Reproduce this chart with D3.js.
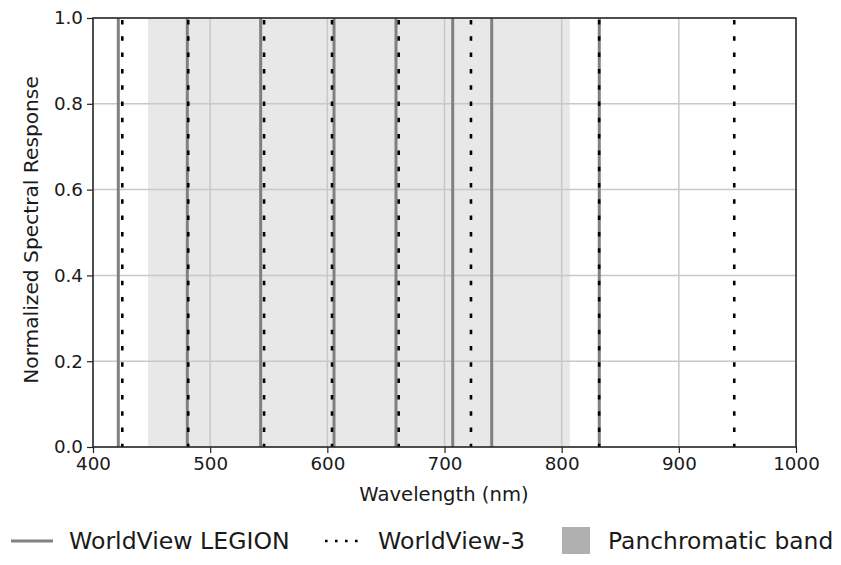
<!DOCTYPE html>
<html><head><meta charset="utf-8">
<script src="https://cdn.jsdelivr.net/npm/d3@7"></script>
<style>body{margin:0;background:#fff}text{font-family:"DejaVu Sans",sans-serif;fill:#1a1a1a}</style>
</head><body>
<svg id="c" width="841" height="565"></svg>
<script>
const legionBands = [421.6, 480.5, 543.1, 605.7, 658.6, 707, 740.3, 832.1];
const wv3Bands = [425, 481.3, 546, 604, 660.9, 722.6, 832, 947.3];
const panBand = [447, 807];
const xTicks = [400, 500, 600, 700, 800, 900, 1000];
const yTicks = [0, 0.2, 0.4, 0.6, 0.8, 1.0];
const legendLabels = ["WorldView LEGION", "WorldView-3", "Panchromatic band"];

const svg = d3.select("#c");
const L = 93, R = 796, T = 18, B = 447;
const x = d3.scaleLinear().domain([400, 1000]).range([L, R]);
const y = d3.scaleLinear().domain([0, 1]).range([B, T]);

// pan band
svg.append("rect").attr("x", x(panBand[0])).attr("y", T)
  .attr("width", x(panBand[1]) - x(panBand[0])).attr("height", B - T)
  .attr("fill", "#e8e8e8");

// grid
svg.append("g").selectAll("line").data(xTicks).join("line")
  .attr("x1", d => x(d)).attr("x2", d => x(d)).attr("y1", T).attr("y2", B)
  .attr("stroke", "#c8c8c8").attr("stroke-width", 1.5);
svg.append("g").selectAll("line").data(yTicks).join("line")
  .attr("y1", d => y(d)).attr("y2", d => y(d)).attr("x1", L).attr("x2", R)
  .attr("stroke", "#c8c8c8").attr("stroke-width", 1.5);

// legion lines
svg.append("g").selectAll("line").data(legionBands).join("line")
  .attr("x1", d => x(d)).attr("x2", d => x(d)).attr("y1", y(0)).attr("y2", y(1))
  .attr("stroke", "#808080").attr("stroke-width", 3);
// wv3 lines
svg.append("g").selectAll("line").data(wv3Bands).join("line")
  .attr("x1", d => x(d)).attr("x2", d => x(d)).attr("y1", y(1) + 2).attr("y2", y(0))
  .attr("stroke", "#000").attr("stroke-width", 2.6).attr("stroke-dasharray", "4.5,11.8");

// axes
const xa = svg.append("g").attr("transform", `translate(0,${B})`)
  .call(d3.axisBottom(x).tickValues(xTicks).tickSize(6).tickPadding(4).tickFormat(d3.format("d")));
const ya = svg.append("g").attr("transform", `translate(${L},0)`)
  .call(d3.axisLeft(y).tickValues(yTicks).tickSize(6).tickPadding(4).tickFormat(d3.format(".1f")));
[xa, ya].forEach(g => {
  g.select(".domain").remove();
  g.selectAll("line").attr("stroke", "#222").attr("stroke-width", 1.2);
  g.selectAll("text").attr("font-size", 18.3).attr("font-family", "DejaVu Sans").attr("fill", "#1a1a1a");
});
svg.append("rect").attr("x", L).attr("y", T).attr("width", R - L).attr("height", B - T)
  .attr("fill", "none").attr("stroke", "#222").attr("stroke-width", 1.5);

svg.append("text").attr("x", 444).attr("y", 501).attr("text-anchor", "middle")
  .attr("font-size", 19.6).text("Wavelength (nm)");
svg.append("text").attr("transform", `translate(38,230) rotate(-90)`)
  .attr("text-anchor", "middle").attr("font-size", 20.2).text("Normalized Spectral Response");

// legend
const lg = svg.append("g");
lg.append("line").attr("x1", 11).attr("x2", 53).attr("y1", 541).attr("y2", 541)
  .attr("stroke", "#808080").attr("stroke-width", 3);
lg.append("text").attr("x", 69).attr("y", 549).attr("font-size", 23.6).text(legendLabels[0]);
lg.append("line").attr("x1", 325).attr("x2", 364).attr("y1", 541).attr("y2", 541)
  .attr("stroke", "#000").attr("stroke-width", 2.6).attr("stroke-dasharray", "2.6,7.4");
lg.append("text").attr("x", 378).attr("y", 549).attr("font-size", 23.6).text(legendLabels[1]);
lg.append("rect").attr("x", 562).attr("y", 527).attr("width", 28).attr("height", 27).attr("fill", "#b0b0b0");
lg.append("text").attr("x", 608).attr("y", 549).attr("font-size", 23.4).text(legendLabels[2]);
</script>
</body></html>
